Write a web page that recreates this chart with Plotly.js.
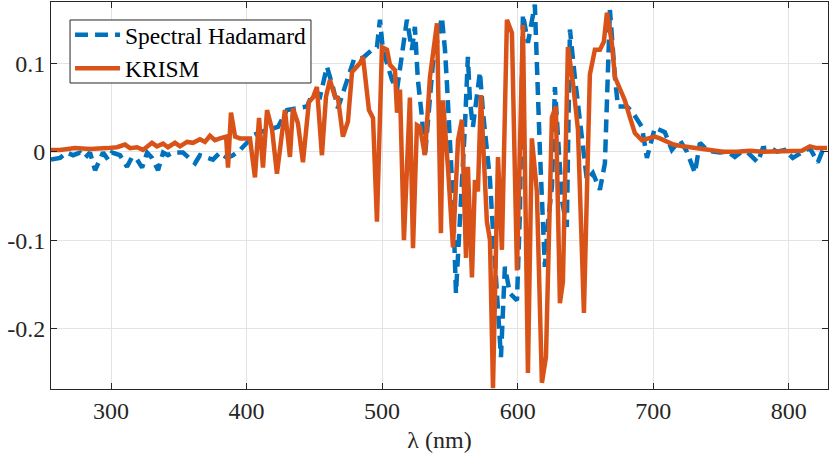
<!DOCTYPE html>
<html>
<head>
<meta charset="utf-8">
<script src="https://cdn.plot.ly/plotly-3.0.1.min.js"></script>
<style>
    html, body { margin: 0; padding: 0; background: #fff; }
    #chart { width: 830px; height: 463px; }
</style>
</head>
<body>
<div id="chart"></div>
<script>
// wavelength (nm) and spectral difference values
const hadamardWl = [
    255.7, 262.4, 267.5, 272.0, 277.1, 280.8, 284.5, 288.2, 294.1, 297.8,
    300.7, 306.6, 311.8, 315.5, 319.2, 322.9, 326.6, 330.2, 334.7, 338.4,
    342.0, 345.7, 353.1, 362.0, 365.6, 370.8, 375.2, 380.4, 385.6, 390.0,
    395.2, 400.3, 405.5, 409.9, 417.3, 423.2, 429.8, 437.2, 444.6, 449.0,
    454.2, 459.3, 463.7, 467.4, 474.1, 479.2, 485.9, 492.5, 496.2, 498.4,
    500.6, 507.3, 511.0, 514.6, 518.3, 522.0, 524.2, 526.4, 529.4, 531.6,
    537.5, 544.1, 546.4, 547.8, 550.0, 552.3, 554.5, 557.4, 561.1, 563.3,
    564.8, 567.0, 572.2, 574.4, 577.3, 579.6, 581.0, 583.2, 587.7, 590.6,
    594.3, 599.5, 601.7, 603.9, 607.6, 612.7, 614.2, 616.4, 618.6, 620.1,
    622.3, 625.3, 627.5, 629.7, 632.7, 636.3, 638.6, 642.2, 647.4, 651.1,
    655.5, 660.7, 664.4, 665.9, 668.1, 671.8, 674.0, 680.6, 685.0, 691.7,
    695.4, 701.3, 708.6, 713.8, 719.7, 724.9, 730.8, 734.5, 739.6, 744.0,
    749.2, 755.1, 760.3, 765.4, 769.9, 777.2, 780.9, 786.1, 791.2, 797.1,
    803.0, 809.7, 815.6, 821.5, 825.2, 828.9
];
const hadamardVal = [
    -0.009, -0.007, -0.001, -0.004, -0.001, -0.007, -0.001, -0.021, -0.001, -0.009,
    -0.001, -0.004, -0.017, -0.006, -0.009, -0.018, -0.001, -0.007, -0.021, -0.001,
    -0.004, -0.001, -0.001, -0.013, -0.004, -0.007, -0.009, -0.001, -0.007, -0.004,
    0.002, 0.010, 0.019, 0.022, 0.025, 0.028, 0.047, 0.049, 0.051, 0.067,
    0.062, 0.096, 0.073, 0.049, 0.081, 0.104, 0.106, 0.115, 0.118, 0.149,
    0.115, 0.081, 0.070, 0.107, 0.149, 0.115, 0.141, 0.081, 0.039, -0.006,
    0.100, 0.152, 0.115, 0.078, 0.013, -0.055, -0.160, -0.085, 0.028, 0.107,
    0.058, 0.028, 0.090, 0.045, 0.008, -0.032, -0.069, -0.122, -0.232, -0.130,
    -0.160, -0.168, -0.069, 0.155, 0.123, 0.166, 0.084, 0.002, -0.077, -0.130,
    -0.081, -0.040, 0.073, 0.013, -0.055, -0.085, 0.138, 0.084, 0.021, -0.032,
    -0.024, -0.043, -0.013, 0.070, 0.160, 0.084, 0.051, 0.051, 0.044, 0.028,
    -0.007, 0.027, 0.022, 0.002, 0.013, 0.000, -0.024, 0.010, 0.002, 0.000,
    -0.001, 0.000, -0.006, 0.000, -0.001, -0.012, 0.004, 0.005, 0.000, 0.002,
    -0.007, -0.001, 0.004, -0.012, 0.002, 0.005
];

const krismWl = [
    255.7, 262.4, 273.4, 284.5, 297.0, 304.4, 310.3, 314.0, 319.2, 323.6,
    330.2, 333.9, 338.4, 342.0, 347.2, 350.9, 356.1, 360.5, 365.6, 369.3,
    373.0, 376.7, 380.4, 384.9, 386.3, 388.5, 391.5, 395.2, 402.5, 406.2,
    409.2, 412.1, 415.1, 418.8, 422.4, 428.3, 432.0, 434.2, 437.9, 441.6,
    446.0, 449.0, 451.9, 455.6, 458.6, 461.5, 465.2, 467.4, 471.1, 474.8,
    477.8, 481.5, 483.7, 485.9, 490.3, 493.3, 496.2, 499.9, 503.6, 505.8,
    509.5, 511.0, 513.2, 516.1, 520.5, 522.8, 525.7, 527.9, 531.6, 535.3,
    540.5, 543.4, 544.9, 548.6, 552.3, 556.0, 558.9, 561.9, 563.3, 566.3,
    568.5, 570.7, 572.9, 577.3, 579.6, 581.8, 585.5, 588.4, 592.1, 595.8,
    599.5, 603.9, 607.6, 610.5, 614.2, 617.9, 620.9, 625.3, 628.2, 631.2,
    633.4, 637.1, 640.8, 644.5, 648.9, 653.3, 657.0, 660.7, 663.6, 665.9,
    669.5, 671.8, 675.4, 679.1, 682.8, 686.5, 691.7, 697.6, 701.3, 704.9,
    710.1, 715.0, 722.0, 732.3, 741.8, 751.4, 761.7, 771.3, 780.9, 791.2,
    800.8, 809.7, 815.6, 820.7, 828.3
];
const krismVal = [
    0.002, 0.002, 0.004, 0.003, 0.004, 0.005, 0.008, 0.004, 0.005, 0.002,
    0.010, 0.006, 0.009, 0.005, 0.010, 0.006, 0.011, 0.010, 0.014, 0.011,
    0.018, 0.013, 0.015, 0.017, -0.018, 0.044, 0.017, 0.015, 0.015, -0.029,
    0.038, -0.018, 0.047, 0.025, -0.025, 0.047, -0.006, 0.049, 0.032, -0.012,
    0.056, 0.061, 0.073, -0.004, 0.062, 0.081, 0.062, 0.061, 0.017, 0.034,
    0.090, 0.096, 0.100, 0.107, 0.047, 0.038, -0.079, 0.118, 0.115, 0.098,
    0.092, 0.044, 0.070, -0.100, 0.061, -0.109, 0.030, 0.028, -0.004, 0.084,
    0.145, -0.092, 0.058, -0.018, -0.108, 0.013, 0.036, -0.120, -0.017, -0.142,
    -0.032, -0.045, 0.064, -0.079, -0.100, -0.267, -0.006, -0.111, 0.149, 0.134,
    -0.134, 0.143, -0.250, 0.015, -0.045, -0.261, -0.232, 0.039, 0.051, -0.171,
    -0.147, 0.118, 0.078, 0.025, -0.182, 0.087, 0.115, 0.115, 0.124, 0.157,
    0.123, 0.084, 0.070, 0.058, 0.039, 0.021, 0.013, 0.015, 0.017, 0.015,
    0.011, 0.008, 0.006, 0.004, 0.002, 0.000, 0.000, 0.001, 0.000, 0.000,
    0.000, 0.001, 0.006, 0.004, 0.004
];

const xTicks = [300, 400, 500, 600, 700, 800];
const yTicks = [-0.2, -0.1, 0, 0.1];
const yTickText = ["-0.2", "-0.1", "0", "0.1"];

const FONT = "'Liberation Serif', 'Times New Roman', serif";
const AXIS_COLOR = "#262626";
const GRID_COLOR = "#e3e3e3";

const axisCommon = {
    showline: true, linecolor: AXIS_COLOR, linewidth: 1, mirror: "ticks",
    ticks: "inside", ticklen: 6, tickcolor: AXIS_COLOR, tickwidth: 1,
    showgrid: true, gridcolor: GRID_COLOR, gridwidth: 1, zeroline: false,
    tickfont: { family: FONT, size: 24, color: AXIS_COLOR },
};

const traces = [
    {
        x: hadamardWl, y: hadamardVal, mode: "lines", name: "Spectral Hadamard",
        line: { color: "#0072BD", width: 4.5, dash: "13px,7px" },
    },
    {
        x: krismWl, y: krismVal, mode: "lines", name: "KRISM",
        line: { color: "#D95319", width: 4.5 },
    },
];

// legend frame drawn as a shape so it can be tighter than plotly's own box
const legendFrame = {
    type: "rect", xref: "paper", yref: "paper", layer: "above",
    x0: 0.0245, x1: 0.3346, y0: 0.7907, y1: 0.9535,
    fillcolor: "#fff", line: { color: AXIS_COLOR, width: 1 },
};

const layout = {
    width: 830, height: 463,
    margin: { t: 2, r: 2, b: 74, l: 51 },
    paper_bgcolor: "#fff", plot_bgcolor: "#fff",
    font: { family: FONT, color: AXIS_COLOR, size: 24 },
    showlegend: true,
    legend: {
        x: 0.0245, y: 0.9716, xanchor: "left", yanchor: "top",
        bgcolor: "rgba(0,0,0,0)", borderwidth: 0, itemwidth: 45,
        font: { family: FONT, size: 23.5, color: "#000" },
        tracegroupgap: 0,
    },
    shapes: [legendFrame],
    xaxis: Object.assign({}, axisCommon, {
        range: [255.7, 829], tickvals: xTicks,
        title: { text: "λ (nm)", font: { family: FONT, size: 24, color: AXIS_COLOR }, standoff: 8 },
    }),
    yaxis: Object.assign({}, axisCommon, {
        range: [-0.268, 0.169], tickvals: yTicks, ticktext: yTickText,
    }),
};

Plotly.newPlot("chart", traces, layout, { displayModeBar: false, staticPlot: true });
</script>
</body>
</html>
